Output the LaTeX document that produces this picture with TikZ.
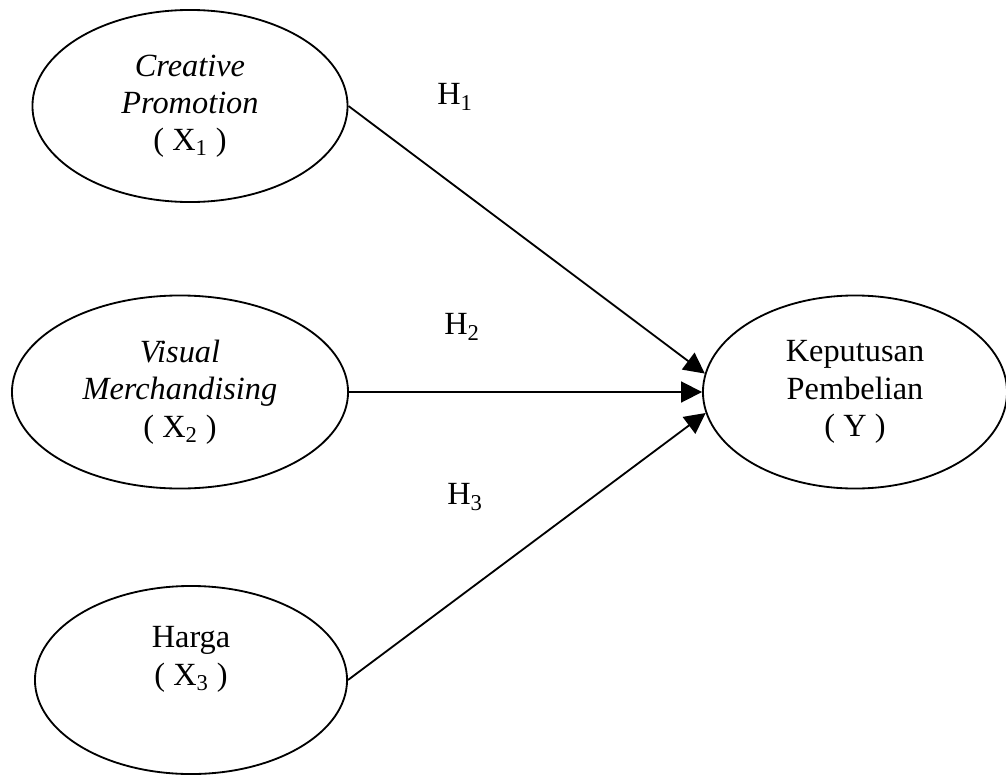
\documentclass[tikz,border=0pt]{standalone}
\usepackage{fontspec}
\setmainfont{Liberation Serif}
\usetikzlibrary{shapes.geometric,arrows.meta}

\begin{document}
\begin{tikzpicture}
    [x=0.025cm,y=-0.025cm,
    font=\fontsize{23}{26.5}\selectfont,
    latent/.style={shape=ellipse,draw=black,line width=1.3pt,inner sep=0pt,align=center},
    arc/.style={-{Triangle[length=0.52cm,width=0.52cm]},line width=1.3pt},
    hlabel/.style={inner sep=0pt}]

    \useasboundingbox (0,0) rectangle (1006,776);

    \node (x1) [latent,minimum width=7.875cm,minimum height=4.8cm] at (190,106) {\textit{Creative}\\\textit{Promotion}\\( X\textsubscript{1} )};
    \node (x2) [latent,minimum width=8.4cm,minimum height=4.825cm] at (180,392) {\textit{Visual}\\\textit{Merchandising}\\( X\textsubscript{2} )};
    \node (x3) [latent,minimum width=7.8cm,minimum height=4.7cm] at (191,680) {Harga\\( X\textsubscript{3} )\\\strut};
    \node (y) [latent,minimum width=7.6cm,minimum height=4.825cm] at (855,392) {Keputusan\\Pembelian\\( Y )};

    \node (h1) [hlabel] at (455,97) {H\textsubscript{1}};
    \node (h2) [hlabel] at (462,327) {H\textsubscript{2}};
    \node (h3) [hlabel] at (465,497) {H\textsubscript{3}};

    \draw [arc] (x1.east) -- (y.173);
    \draw [arc] (x2.east) -- (y.west);
    \draw [arc] (x3.east) -- (y.188);
\end{tikzpicture}
\end{document}
